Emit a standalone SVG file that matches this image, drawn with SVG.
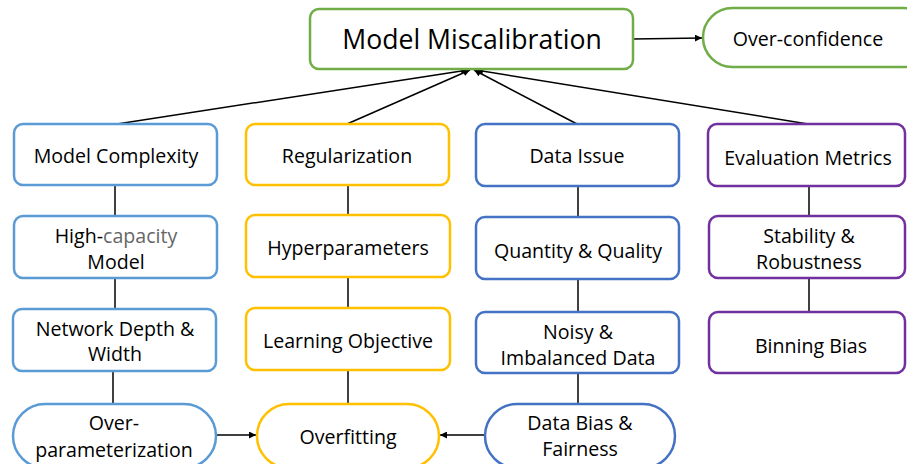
<svg xmlns="http://www.w3.org/2000/svg" width="907" height="464" viewBox="0 0 907 464">
<defs>
<marker id="ah" viewBox="0 0 10 10" refX="10" refY="5" markerWidth="7" markerHeight="7" markerUnits="userSpaceOnUse" orient="auto"><path d="M0,0 L10,5 L0,10 z" fill="#000"/></marker>
<style>
.n{fill:#fff;stroke-width:2.5}
.g{stroke:#70AD47}.lb{stroke:#5B9BD5}.y{stroke:#FFC000}.db{stroke:#4472C4}.p{stroke:#7030A0}
text{font-family:"Open Sans","Noto Sans",sans-serif;font-size:19.6px;fill:#000;text-anchor:middle;dominant-baseline:central}
.c line{stroke:#000;stroke-width:1.5}
.a{marker-end:url(#ah)}
</style>
</defs>
<rect width="907" height="464" fill="#fff"/>
<g class="c">
<line class="a" x1="633" y1="39" x2="702" y2="38"/>
<line class="a" x1="117" y1="124" x2="468" y2="70"/>
<line class="a" x1="347" y1="124" x2="470" y2="70"/>
<line class="a" x1="577" y1="124" x2="474" y2="70"/>
<line class="a" x1="808" y1="124" x2="476" y2="70"/>
<line x1="115" y1="185" x2="115" y2="216"/>
<line x1="115" y1="278" x2="115" y2="309"/>
<line x1="113" y1="371" x2="113" y2="404"/>
<line x1="348" y1="185" x2="348" y2="215"/>
<line x1="348" y1="277" x2="348" y2="308"/>
<line x1="348" y1="370" x2="348" y2="404"/>
<line x1="578" y1="186" x2="578" y2="217"/>
<line x1="578" y1="279" x2="578" y2="312"/>
<line x1="578" y1="373" x2="578" y2="404"/>
<line x1="809" y1="186" x2="809" y2="216"/>
<line x1="809" y1="278" x2="809" y2="312"/>
<line class="a" x1="217" y1="435" x2="256" y2="435"/>
<line class="a" x1="484" y1="435" x2="440" y2="435"/>
</g>
<g id="model-miscalibration"><rect class="n g" x="310" y="9" width="323" height="60" rx="9"/><text x="472" y="39" style="font-size:26.6px">Model Miscalibration</text></g>
<g id="over-confidence"><rect class="n g" x="703" y="8" width="230" height="59" rx="29.5"/><text x="808" y="38">Over-confidence</text></g>
<g id="model-complexity"><rect class="n lb" x="14" y="124" width="203" height="61" rx="9"/><text x="116" y="155">Model Complexity</text></g>
<g id="regularization"><rect class="n y" x="246" y="124" width="203" height="61" rx="9"/><text x="347" y="155">Regularization</text></g>
<g id="data-issue"><rect class="n db" x="476" y="124" width="203" height="62" rx="9"/><text x="577" y="155">Data Issue</text></g>
<g id="evaluation-metrics"><rect class="n p" x="708" y="124" width="197" height="62" rx="9"/><text x="808" y="157">Evaluation Metrics</text></g>
<g id="high-capacity-model"><rect class="n lb" x="14" y="216" width="203" height="62" rx="9"/><text x="116" y="235">High-<tspan fill="#666">capacity</tspan></text><text x="116" y="261">Model</text></g>
<g id="hyperparameters"><rect class="n y" x="246" y="215" width="204" height="62" rx="9"/><text x="348" y="247">Hyperparameters</text></g>
<g id="quantity-quality"><rect class="n db" x="476" y="217" width="203" height="62" rx="9"/><text x="578" y="250">Quantity &amp; Quality</text></g>
<g id="stability-robustness"><rect class="n p" x="709" y="216" width="196" height="62" rx="9"/><text x="809" y="235">Stability &amp;</text><text x="809" y="261">Robustness</text></g>
<g id="network-depth-width"><rect class="n lb" x="13" y="309" width="203" height="62" rx="9"/><text x="115" y="328">Network Depth &amp;</text><text x="115" y="353">Width</text></g>
<g id="learning-objective"><rect class="n y" x="246" y="308" width="204" height="62" rx="9"/><text x="348" y="340">Learning Objective</text></g>
<g id="noisy-imbalanced-data"><rect class="n db" x="476" y="312" width="203" height="61" rx="9"/><text x="578" y="331">Noisy &amp;</text><text x="578" y="357">Imbalanced Data</text></g>
<g id="binning-bias"><rect class="n p" x="709" y="312" width="196" height="61" rx="9"/><text x="811" y="345">Binning Bias</text></g>
<g id="over-parameterization"><rect class="n lb" x="13" y="404" width="203" height="64" rx="32"/><text x="114" y="422">Over-</text><text x="114" y="449">parameterization</text></g>
<g id="overfitting"><rect class="n y" x="257" y="404" width="182" height="64" rx="32"/><text x="348" y="436">Overfitting</text></g>
<g id="data-bias-fairness"><rect class="n db" x="485" y="404" width="190" height="64" rx="32"/><text x="580" y="422">Data Bias &amp;</text><text x="580" y="448">Fairness</text></g>
</svg>
